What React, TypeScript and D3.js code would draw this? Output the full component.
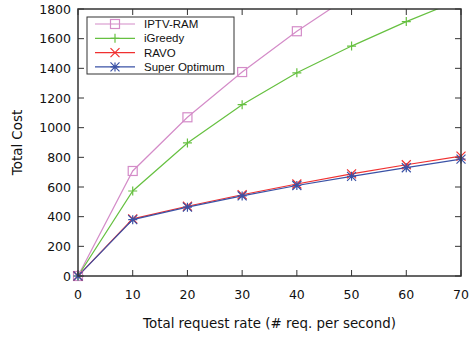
import * as d3 from "d3";

const xs = [0, 10, 20, 30, 40, 50, 60, 70];
const iptvRam = [0, 708, 1070, 1375, 1650, 1895];
const iGreedy = [0, 573, 897, 1155, 1370, 1550, 1715, 1865];
const ravo = [0, 385, 470, 548, 620, 688, 750, 808];
const superOpt = [0, 380, 464, 540, 610, 672, 730, 788];
const xTicks = [0, 10, 20, 30, 40, 50, 60, 70];
const yTicks = [0, 200, 400, 600, 800, 1000, 1200, 1400, 1600, 1800];

const series = [
  { name: "IPTV-RAM", values: iptvRam, color: "#d48cc8", marker: "square" },
  { name: "iGreedy", values: iGreedy, color: "#66c040", marker: "plus" },
  { name: "RAVO", values: ravo, color: "#f03030", marker: "cross" },
  { name: "Super Optimum", values: superOpt, color: "#3a52a6", marker: "star" },
];

const W = 471;
const H = 337;
const m = { left: 78, right: 10, top: 9, bottom: 61 };
const font = "DejaVu Sans, sans-serif";
const legendFont = "Liberation Sans, Arial, sans-serif";

function Marker({ type, x, y, color }: { type: string; x: number; y: number; color: string }) {
  const s = 4.5;
  if (type === "square")
    return <rect x={x - s} y={y - s} width={2 * s} height={2 * s} fill="none" stroke={color} strokeWidth={1.2} />;
  if (type === "plus")
    return <path d={`M${x - s},${y}H${x + s}M${x},${y - s}V${y + s}`} stroke={color} strokeWidth={1.2} />;
  if (type === "cross")
    return <path d={`M${x - s},${y - s}L${x + s},${y + s}M${x - s},${y + s}L${x + s},${y - s}`} stroke={color} strokeWidth={1.2} />;
  return (
    <path
      d={`M${x - s},${y - s}L${x + s},${y + s}M${x - s},${y + s}L${x + s},${y - s}M${x - s},${y}H${x + s}M${x},${y - s}V${y + s}`}
      stroke={color}
      strokeWidth={1.2}
    />
  );
}

export default function App() {
  const x = d3.scaleLinear().domain([0, 70]).range([m.left, W - m.right]);
  const y = d3.scaleLinear().domain([0, 1800]).range([H - m.bottom, m.top]);
  const line = d3
    .line<number>()
    .x((_, i) => x(xs[i]))
    .y((d) => y(d));
  const x0 = x.range()[0];
  const x1 = x.range()[1];
  const y0 = y.range()[0];
  const y1 = y.range()[1];
  const tk = 6;

  return (
    <svg width={W} height={H} style={{ position: "absolute", left: 0, top: 0 }} fontFamily={font}>
      <defs>
        <clipPath id="plot">
          <rect x={x0} y={y1} width={x1 - x0} height={y0 - y1} />
        </clipPath>
      </defs>
      <rect width={W} height={H} fill="#fff" />
      {xTicks.map((t) => (
        <g key={"x" + t}>
          <path d={`M${x(t)},${y0}v${-tk}M${x(t)},${y1}v${tk}`} stroke="#333" strokeWidth={1} />
          <text x={x(t)} y={y0 + 23} textAnchor="middle" fontSize={12.5} fill="#111">
            {t}
          </text>
        </g>
      ))}
      {yTicks.map((t) => (
        <g key={"y" + t}>
          <path d={`M${x0},${y(t)}h${tk}M${x1},${y(t)}h${-tk}`} stroke="#333" strokeWidth={1} />
          <text x={x0 - 7} y={y(t) + 4.5} textAnchor="end" fontSize={12.5} fill="#111">
            {t}
          </text>
        </g>
      ))}
      <g clipPath="url(#plot)">
        {series.map((s) => (
          <g key={s.name}>
            <path d={line(s.values) || ""} fill="none" stroke={s.color} strokeWidth={1.2} />
          </g>
        ))}
      </g>
      {series.map((s) => (
        <g key={s.name + "m"}>
          {s.values.map((v, i) =>
            v <= 1800 ? <Marker key={i} type={s.marker} x={x(xs[i])} y={y(v)} color={s.color} /> : null
          )}
        </g>
      ))}
      <rect x={x0} y={y1} width={x1 - x0} height={y0 - y1} fill="none" stroke="#333" strokeWidth={1.5} />
      <g>
        <rect x={87} y={17} width={147} height={57} fill="#fff" stroke="#333" strokeWidth={1} />
        {series.map((s, i) => {
          const ly = 24 + i * 14.3;
          return (
            <g key={s.name + "l"}>
              <path d={`M95,${ly}H135`} stroke={s.color} strokeWidth={1.2} />
              <Marker type={s.marker} x={115} y={ly} color={s.color} />
              <text x={144} y={ly + 4} fontSize={11.5} fill="#111" fontFamily={legendFont}>
                {s.name}
              </text>
            </g>
          );
        })}
      </g>
      <text x={(x0 + x1) / 2} y={328} textAnchor="middle" fontSize={13.4} fill="#111">
        Total request rate (# req. per second)
      </text>
      <text transform={`translate(22,${(y0 + y1) / 2}) rotate(-90)`} textAnchor="middle" fontSize={13.4} fill="#111">
        Total Cost
      </text>
    </svg>
  );
}
